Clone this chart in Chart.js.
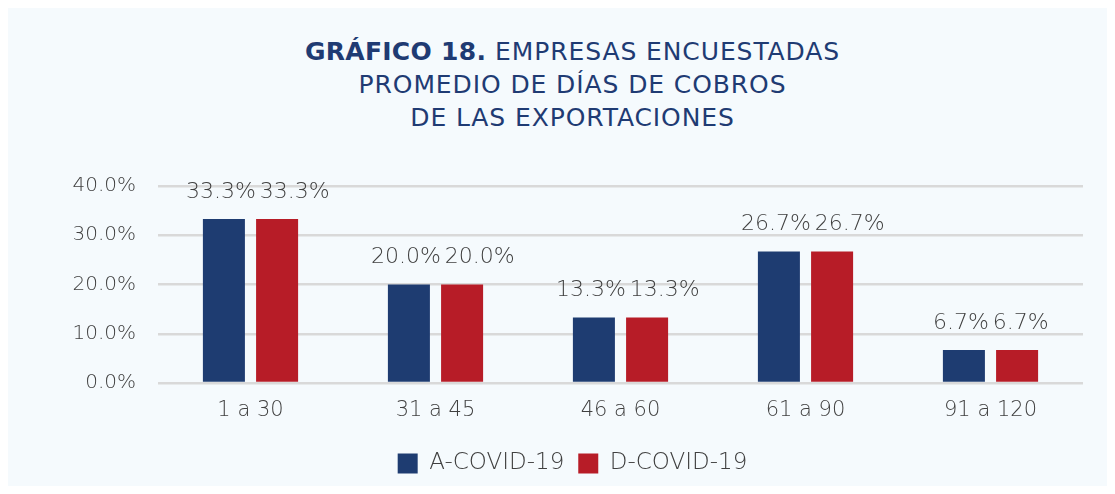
<!DOCTYPE html>
<html>
<head>
<meta charset="utf-8">
<script src="https://cdn.jsdelivr.net/npm/chart.js@4"></script>
<style>
  html, body { margin: 0; padding: 0; background: #ffffff; }
  #panel {
    position: absolute; left: 8px; top: 8px; width: 1099px; height: 478px;
    background: #f5fafd;
  }
  #title {
    position: absolute; left: 0; top: 27px; width: 100%; box-sizing: border-box;
    padding-left: 30px; text-align: center; margin: 0;
    font-family: "DejaVu Sans", sans-serif; font-weight: 400;
    font-size: 25px; line-height: 33px; letter-spacing: 0.9px; color: #1f3b73;
  }
  #title b { font-weight: 700; letter-spacing: 0.3px; }
  #chartBox { position: absolute; left: 0; top: 140px; width: 1099px; height: 346px; }
</style>
</head>
<body>
<div id="panel">
  <h2 id="title"><b>GRÁFICO 18.</b> EMPRESAS ENCUESTADAS<br>PROMEDIO DE DÍAS DE COBROS<br>DE LAS EXPORTACIONES</h2>
  <div id="chartBox"><canvas id="chart"></canvas></div>
</div>
<script>
const categories = ['1 a 30', '31 a 45', '46 a 60', '61 a 90', '91 a 120'];
const antesCovid = [33.3, 20.0, 13.3, 26.7, 6.7];
const despuesCovid = [33.3, 20.0, 13.3, 26.7, 6.7];
const seriesNames = ['A-COVID-19', 'D-COVID-19'];
const yTicks = [0, 10, 20, 30, 40];

const grayText = '#404040';
const fontFamily = '"DejaVu Sans", sans-serif';
const fontWeight = 300;

// dibuja los porcentajes encima de cada barra, separando las dos etiquetas si chocan
const valueLabels = {
    id: 'valueLabels',
    afterDatasetsDraw(chart) {
        const ctx = chart.ctx;
        ctx.save();
        ctx.font = fontWeight + ' 22px ' + fontFamily;
        ctx.fillStyle = grayText;
        ctx.textAlign = 'center';
        ctx.textBaseline = 'middle';
        const metaA = chart.getDatasetMeta(0).data;
        const metaD = chart.getDatasetMeta(1).data;
        categories.forEach(function(cat, j) {
            const txtA = antesCovid[j].toFixed(1) + '%';
            const txtD = despuesCovid[j].toFixed(1) + '%';
            const wA = ctx.measureText(txtA).width;
            const wD = ctx.measureText(txtD).width;
            const xA = metaA[j].x - 3;
            const xD = Math.max(metaD[j].x, xA + wA / 2 + 4 + wD / 2);
            ctx.fillText(txtA, xA, metaA[j].y - 27);
            ctx.fillText(txtD, xD, metaD[j].y - 27);
        });
        ctx.restore();
    }
};

new Chart(document.getElementById('chart'), {
    type: 'bar',
    data: {
        labels: categories,
        datasets: [{
            label: seriesNames[0],
            data: antesCovid,
            backgroundColor: '#1e3c71',
            categoryPercentage: 0.575,
            barPercentage: 0.79
        }, {
            label: seriesNames[1],
            data: despuesCovid,
            backgroundColor: '#b71c27',
            categoryPercentage: 0.575,
            barPercentage: 0.79
        }]
    },
    options: {
        responsive: true,
        maintainAspectRatio: false,
        animation: false,
        layout: { padding: { top: 38, right: 24, left: 54, bottom: 9 } },
        scales: {
            y: {
                min: 0,
                max: 40,
                afterBuildTicks: function(scale) {
                    scale.ticks = yTicks.map(function(v) { return { value: v }; });
                },
                afterFit: function(scale) { scale.width = 96; },
                border: { display: false },
                grid: { color: '#d9d9d9', lineWidth: 2.5, drawTicks: false },
                ticks: {
                    padding: 22,
                    color: grayText,
                    font: { family: fontFamily, size: 20, weight: fontWeight },
                    callback: function(v) { return v.toFixed(1) + '%'; }
                }
            },
            x: {
                border: { display: false },
                grid: { display: false, drawTicks: false },
                afterFit: function(scale) { scale.height = 55; },
                ticks: {
                    padding: 15,
                    color: grayText,
                    font: { family: fontFamily, size: 21, weight: fontWeight }
                }
            }
        },
        plugins: {
            legend: {
                position: 'bottom',
                labels: {
                    boxWidth: 20,
                    boxHeight: 20,
                    padding: 14,
                    color: grayText,
                    font: { family: fontFamily, size: 23, weight: fontWeight }
                }
            },
            tooltip: { enabled: false }
        }
    },
    plugins: [valueLabels]
});
</script>
</body>
</html>
